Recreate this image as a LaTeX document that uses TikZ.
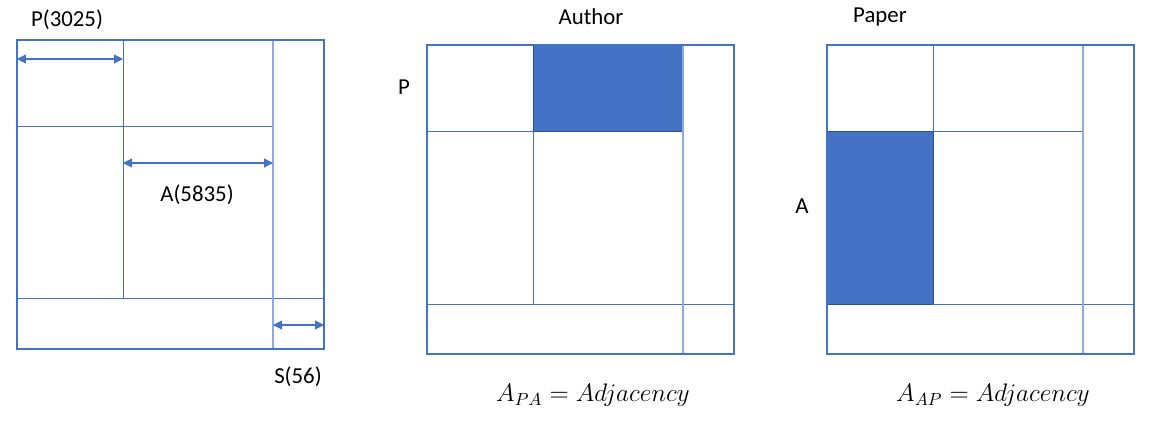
\documentclass[tikz,border=0pt]{standalone}
\usepackage{fontspec}
\setmainfont{Carlito}
\usetikzlibrary{arrows.meta}

\definecolor{lineblue}{HTML}{4472C4}
\definecolor{lightblue}{HTML}{8FAADC}
\definecolor{edgeblue}{HTML}{2F528F}

\tikzset{
	outer/.style={draw=lineblue, line width=0.8pt},
	inner/.style={draw=lineblue, line width=0.5pt},
	faint/.style={draw=lightblue, line width=0.8pt},
	block/.style={fill=lineblue, draw=edgeblue, line width=0.5pt},
	dim/.style={{Triangle[length=1.8mm,width=1.8mm]}-{Triangle[length=1.8mm,width=1.8mm]}, draw=lineblue, line width=0.6pt},
	lbl/.style={font=\fontsize{13}{15}\selectfont},
	fml/.style={font=\fontsize{14}{17}\selectfont}
}

\begin{document}
\begin{tikzpicture}[x=0.02cm, y=-0.02cm]
	\useasboundingbox (0,0) rectangle (1162,426);
	
	% left matrix: P, A, S blocks
	\draw[inner] (123,40) -- (123,298);
	\draw[inner] (17,126) -- (273,126);
	\draw[inner] (17,298) -- (324,298);
	\draw[faint] (273,40) -- (273,349);
	\draw[outer] (17,40) rectangle (324,349);
	
	\coordinate (p1) at (17,59);
	\coordinate (p2) at (123,59);
	\coordinate (a1) at (123,163);
	\coordinate (a2) at (273,163);
	\coordinate (s1) at (273,325);
	\coordinate (s2) at (324,325);
	\draw[dim] (p1) -- (p2);
	\draw[dim] (a1) -- (a2);
	\draw[dim] (s1) -- (s2);
	
	\node[lbl] (psize) at (67,20) {P(3025)};
	\node[lbl] (asize) at (197,195) {A(5835)};
	\node[lbl] (ssize) at (298,377) {S(56)};
	
	% middle matrix: paper-author block
	\draw[block] (533,45) rectangle (683,131);
	\draw[inner] (533,131) -- (533,304);
	\draw[inner] (427,131) -- (533,131);
	\draw[inner] (427,304) -- (734,304);
	\draw[faint] (683,45) -- (683,354);
	\draw[outer] (427,45) rectangle (734,354);
	
	\node[lbl] (author) at (591,17) {Author};
	\node[lbl] (prow) at (404,87) {P};
	\node[fml] (apa) at (593,395) {$A_{PA} = Adjacency$};
	
	% right matrix: author-paper block
	\draw[block] (827,131) rectangle (933,304);
	\draw[inner] (933,45) -- (933,131);
	\draw[inner] (933,131) -- (1083,131);
	\draw[inner] (933,304) -- (1134,304);
	\draw[faint] (1083,45) -- (1083,354);
	\draw[outer] (827,45) rectangle (1134,354);
	
	\node[lbl] (paper) at (880,17) {Paper};
	\node[lbl] (arow) at (802,206) {A};
	\node[fml] (aap) at (993,395) {$A_{AP} = Adjacency$};
\end{tikzpicture}
\end{document}
